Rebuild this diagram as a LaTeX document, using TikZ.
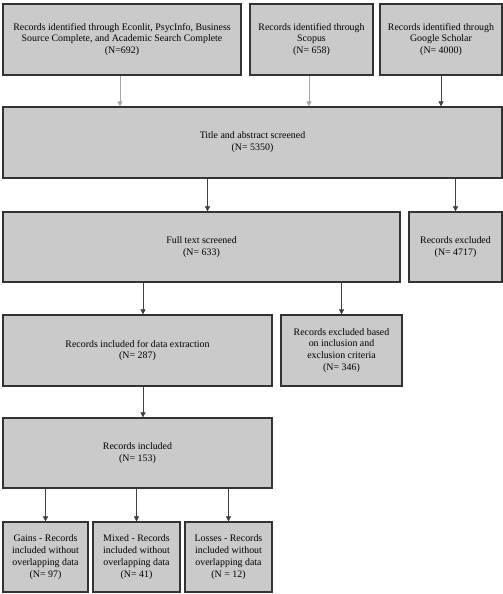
\documentclass[tikz,border=0pt]{standalone}
\usepackage{fontspec}
\setmainfont{Liberation Serif}
\usetikzlibrary{arrows.meta}
\definecolor{boxfill}{HTML}{CACACA}
\definecolor{boxline}{HTML}{333333}
\definecolor{arrline}{HTML}{404040}

\begin{document}
\begin{tikzpicture}[x=1pt,y=-1pt,
	box/.style={draw=boxline,fill=boxfill,line width=1.2pt,align=center,inner sep=0pt,
		font=\fontsize{9.9}{11.8}\selectfont},
	arr/.style={arrline,line width=0.6pt,-{Triangle[length=5pt,width=5pt]}}]
	\useasboundingbox (0,0) rectangle (503,594);
	% identification
	\node[box,minimum width=238,minimum height=71] (econ) at (122,39.5)
		{Records identified through Econlit, PsycInfo, Business\\Source Complete, and Academic Search Complete\\(N=692)};
	\node[box,minimum width=123,minimum height=71] (scopus) at (311.5,39.5)
		{Records identified through\\Scopus\\(N= 658)};
	\node[box,minimum width=122,minimum height=71] (scholar) at (441,39.5)
		{Records identified through\\Google Scholar\\(N= 4000)};
	% screening
	\node[box,minimum width=499,minimum height=71] (title) at (252.5,142.5)
		{Title and abstract screened\\(N= 5350)};
	\node[box,minimum width=397,minimum height=70] (full) at (201.5,247)
		{Full text screened\\(N= 633)};
	\node[box,minimum width=93,minimum height=70] (excl) at (455.5,247)
		{Records excluded\\(N= 4717)};
	% eligibility
	\node[box,minimum width=269,minimum height=71] (extract) at (137.5,350.5)
		{Records included for data extraction\\(N= 287)};
	\node[box,minimum width=121,minimum height=71] (crit) at (341.5,350.5)
		{Records excluded based\\on inclusion and\\exclusion criteria\\(N= 346)};
	\node[box,minimum width=269,minimum height=70] (incl) at (137.5,453)
		{Records included\\(N= 153)};
	% included
	\node[box,minimum width=85,minimum height=70] (gains) at (45.5,557)
		{Gains - Records\\included without\\overlapping data\\(N= 97)};
	\node[box,minimum width=87,minimum height=70] (mixed) at (136.5,557)
		{Mixed - Records\\included without\\overlapping data\\(N= 41)};
	\node[box,minimum width=87,minimum height=70] (losses) at (228.5,557)
		{Losses - Records\\included without\\overlapping data\\(N = 12)};
	% arrows
	\draw[arr,gray!70] ([xshift=-2pt]econ.south) -- ([xshift=-2pt]econ.south |- title.north);
	\draw[arr,gray!70] ([xshift=-2.5pt]scopus.south) -- ([xshift=-2.5pt]scopus.south |- title.north);
	\draw[arr] (scholar.south) -- (scholar.south |- title.north);
	\draw[arr] ([xshift=6pt]full.north |- title.south) -- ([xshift=6pt]full.north);
	\draw[arr] (excl.north |- title.south) -- (excl.north);
	\draw[arr] ([xshift=5.5pt]extract.north |- full.south) -- ([xshift=5.5pt]extract.north);
	\draw[arr] (crit.north |- full.south) -- (crit.north);
	\draw[arr] ([xshift=5.5pt]extract.south) -- ([xshift=5.5pt]incl.north);
	\foreach \b in {gains,mixed,losses}
		\draw[arr] (\b.north |- incl.south) -- (\b.north);
\end{tikzpicture}
\end{document}
